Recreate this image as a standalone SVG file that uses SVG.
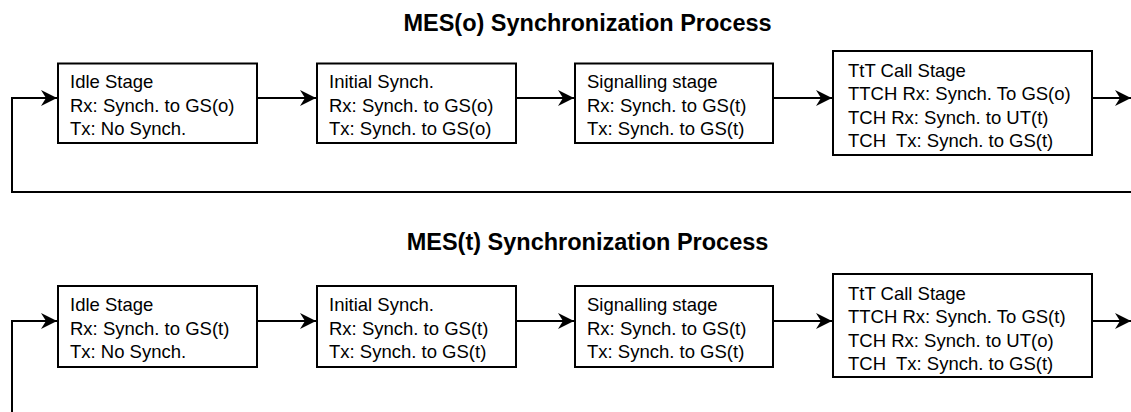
<svg xmlns="http://www.w3.org/2000/svg" width="1131" height="412" viewBox="0 0 1131 412">
<style>
  .box { fill: #fff; stroke: #000; stroke-width: 2; }
  .t { font-family: "Liberation Sans", Arial, sans-serif; font-size: 18.5px; fill: #000; white-space: pre; }
  .title { font-family: "Liberation Sans", Arial, sans-serif; font-size: 23.5px; font-weight: bold; fill: #000; text-anchor: middle; }
  .c { fill: none; stroke: #000; stroke-width: 2; }
</style>
<defs>
  <marker id="ah" markerUnits="userSpaceOnUse" markerWidth="17" markerHeight="17" refX="16" refY="8" orient="auto" viewBox="0 0 17 17">
    <path d="M0,0 L16,8 L0,16 L5,8 Z" fill="#000"/>
  </marker>
</defs>
<rect width="1131" height="412" fill="#fff"/>
<text class="title" x="587.5" y="31">MES(o) Synchronization Process</text>
<text class="title" x="587.5" y="250">MES(t) Synchronization Process</text>
<g id="connectors">
  <path class="c" d="M1131,192 H12 V98 H57" marker-end="url(#ah)"/>
  <path class="c" d="M257,98 H316" marker-end="url(#ah)"/>
  <path class="c" d="M516,98 H574" marker-end="url(#ah)"/>
  <path class="c" d="M773,98 H832" marker-end="url(#ah)"/>
  <path class="c" d="M1092,98 H1131" marker-end="url(#ah)"/>
  <path class="c" d="M12,412 V321 H57" marker-end="url(#ah)"/>
  <path class="c" d="M257,321 H316" marker-end="url(#ah)"/>
  <path class="c" d="M516,321 H574" marker-end="url(#ah)"/>
  <path class="c" d="M773,321 H832" marker-end="url(#ah)"/>
  <path class="c" d="M1092,321 H1131" marker-end="url(#ah)"/>
</g>
<g id="o-idle">
  <rect class="box" x="58" y="63.5" width="199" height="79.5"/>
  <text class="t" x="70" y="88">Idle Stage</text>
  <text class="t" x="70" y="111.5">Rx: Synch. to GS(o)</text>
  <text class="t" x="70" y="135">Tx: No Synch.</text>
</g>
<g id="o-initial">
  <rect class="box" x="317" y="63.5" width="199" height="79.5"/>
  <text class="t" x="329" y="88">Initial Synch.</text>
  <text class="t" x="329" y="111.5">Rx: Synch. to GS(o)</text>
  <text class="t" x="329" y="135">Tx: Synch. to GS(o)</text>
</g>
<g id="o-signalling">
  <rect class="box" x="575" y="63.5" width="198" height="79.5"/>
  <text class="t" x="587" y="88">Signalling stage</text>
  <text class="t" x="587" y="111.5">Rx: Synch. to GS(t)</text>
  <text class="t" x="587" y="135">Tx: Synch. to GS(t)</text>
</g>
<g id="o-call">
  <rect class="box" x="833" y="51" width="259" height="104"/>
  <text class="t" x="848" y="76.5">TtT Call Stage</text>
  <text class="t" x="848" y="100">TTCH Rx: Synch. To GS(o)</text>
  <text class="t" x="848" y="123.5">TCH Rx: Synch. to UT(t)</text>
  <text class="t" x="848" y="147">TCH  Tx: Synch. to GS(t)</text>
</g>
<g id="t-idle">
  <rect class="box" x="58" y="286" width="199" height="81"/>
  <text class="t" x="70" y="311">Idle Stage</text>
  <text class="t" x="70" y="334.5">Rx: Synch. to GS(t)</text>
  <text class="t" x="70" y="358">Tx: No Synch.</text>
</g>
<g id="t-initial">
  <rect class="box" x="317" y="286" width="199" height="81"/>
  <text class="t" x="329" y="311">Initial Synch.</text>
  <text class="t" x="329" y="334.5">Rx: Synch. to GS(t)</text>
  <text class="t" x="329" y="358">Tx: Synch. to GS(t)</text>
</g>
<g id="t-signalling">
  <rect class="box" x="575" y="286" width="198" height="81"/>
  <text class="t" x="587" y="311">Signalling stage</text>
  <text class="t" x="587" y="334.5">Rx: Synch. to GS(t)</text>
  <text class="t" x="587" y="358">Tx: Synch. to GS(t)</text>
</g>
<g id="t-call">
  <rect class="box" x="833" y="274" width="259" height="103"/>
  <text class="t" x="848" y="299.5">TtT Call Stage</text>
  <text class="t" x="848" y="323">TTCH Rx: Synch. To GS(t)</text>
  <text class="t" x="848" y="346.5">TCH Rx: Synch. to UT(o)</text>
  <text class="t" x="848" y="370">TCH  Tx: Synch. to GS(t)</text>
</g>
</svg>
